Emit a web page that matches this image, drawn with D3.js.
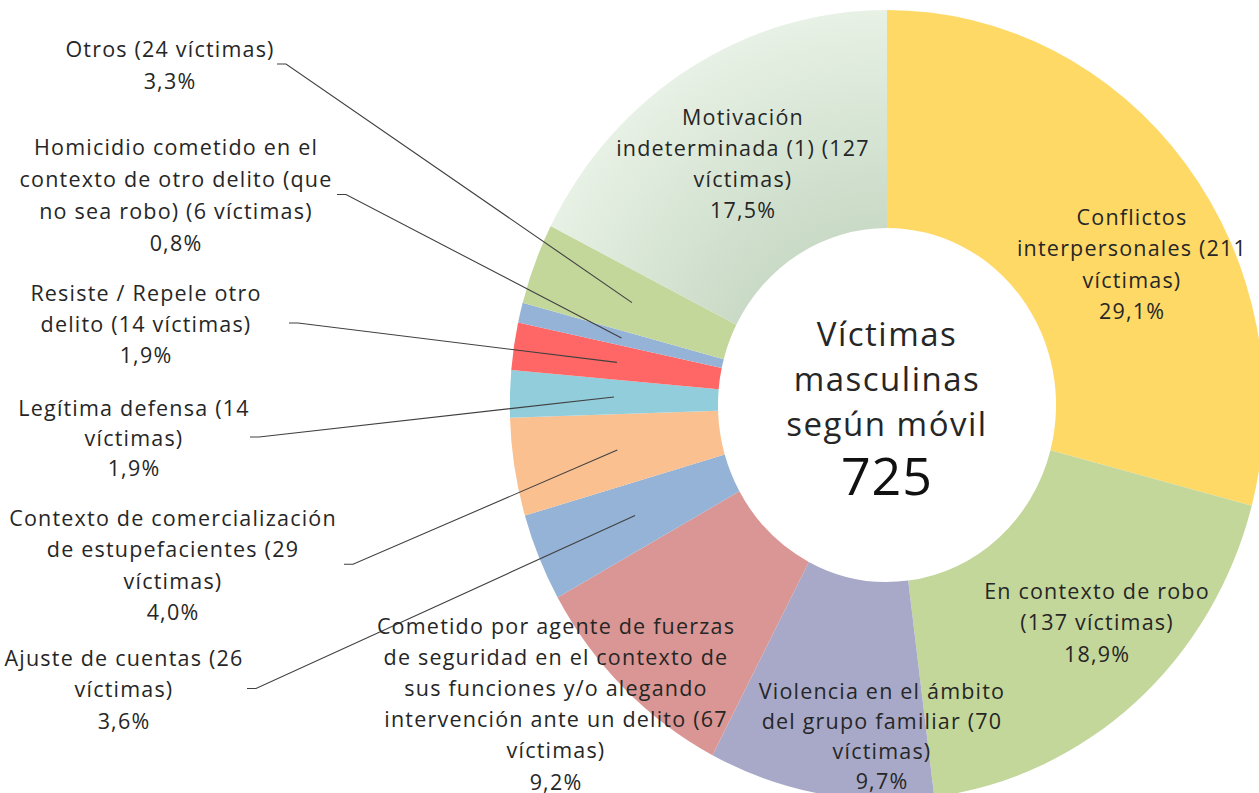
<!DOCTYPE html>
<html>
<head>
<meta charset="utf-8">
<script src="https://cdn.jsdelivr.net/npm/d3@7"></script>
<style>
  body { margin: 0; background: #fff; }
  text { font-family: "Open Sans", Lato, sans-serif; fill: #262626; }
</style>
</head>
<body>
<script>
const m = {
  width: 1259,
  height: 793
}

// data
const names = [
  "Conflictos interpersonales",
  "En contexto de robo",
  "Violencia en el ámbito del grupo familiar",
  "Cometido por agente de fuerzas de seguridad en el contexto de sus funciones y/o alegando intervención ante un delito",
  "Ajuste de cuentas",
  "Contexto de comercialización de estupefacientes",
  "Legítima defensa",
  "Resiste / Repele otro delito",
  "Homicidio cometido en el contexto de otro delito (que no sea robo)",
  "Otros",
  "Motivación indeterminada (1)"
];
const values = [211, 137, 70, 67, 26, 29, 14, 14, 6, 24, 127];
const colors = ["#FFD966", "#C4D79B", "#A8A9C8", "#D99694", "#95B3D7", "#FAC090",
                "#92CDDC", "#FF6666", "#95B3D7", "#C4D79B", "url(#motivGrad)"];
const centerLines = ["Víctimas", "masculinas", "según móvil"];

// words per line when wrapping each label
const wraps = [[1, 2, 1], [4, 2], [4, 4, 1], [5, 6, 4, 5, 1], [4, 1], [3, 3, 1],
               [3, 1], [4, 3], [4, 5, 5], [3], [1, 3, 1]];

// label layout: centre x, first line y, leader start x (null = inside label)
const labelPos = [
  [1132, 216, null], [1097, 590, null], [882, 690, null], [556, 625, null],
  [124, 657, 247], [173, 517, 344], [134, 407, 250], [146, 292, 289],
  [176, 146, 337], [170, 48, 277], [743, 116, null]
];
const lineH = [31.5, 31.5, 30.3, 31.2, 31.5, 31.5, 30, 31, 32.3, 32, 31.3];

const total = d3.sum(values);
const cx = 887, cy = 405, sx = 0.955;
const rOuter = 395, rInner = 177;

let svg = d3.select("body")
  .append("svg")
  .attr("width", m.width)
  .attr("height", m.height);

let defs = svg.append("defs");
let grad = defs.append("radialGradient")
  .attr("id", "motivGrad")
  .attr("gradientUnits", "userSpaceOnUse")
  .attr("cx", 0).attr("cy", 0).attr("r", rOuter);
grad.append("stop").attr("offset", rInner / rOuter).attr("stop-color", "#C9DAC6");
grad.append("stop").attr("offset", 1).attr("stop-color", "#E7F1E5");

let pie = d3.pie().sort(null).value(d => d)(values);
let arc = d3.arc().innerRadius(rInner).outerRadius(rOuter);

// donut, squeezed a little horizontally like the reference
let donut = svg.append("g")
  .attr("transform", `translate(${cx},${cy}) scale(${sx},1)`);

donut.selectAll("path")
  .data(pie)
  .enter()
  .append("path")
  .attr("d", arc)
  .attr("fill", (d, i) => colors[i]);

const fmt = v => (v / total * 100).toFixed(1).replace(".", ",") + "%";

function wrapLines(i) {
  let words = `${names[i]} (${values[i]} víctimas)`.split(" ");
  let lines = [], k = 0;
  wraps[i].forEach(n => {
    lines.push(words.slice(k, k + n).join(" "));
    k += n;
  });
  lines.push(fmt(values[i]));
  return lines;
}

// leader lines
let leaders = svg.append("g");
pie.forEach((d, i) => {
  let p = labelPos[i];
  if (p[2] === null) return;
  let lines = wrapLines(i);
  let y0 = p[1] + (lines.length - 1) * lineH[i] / 2;
  let c = arc.centroid(d);
  let ex = cx + c[0] * sx, ey = cy + c[1];
  leaders.append("polyline")
    .attr("points", `${p[2]},${y0} ${p[2] + 9},${y0} ${ex},${ey}`)
    .attr("fill", "none")
    .attr("stroke", "#404040")
    .attr("stroke-width", 1.1);
});

// labels
let labels = svg.append("g");
pie.forEach((d, i) => {
  let p = labelPos[i];
  let t = labels.append("text")
    .attr("text-anchor", "middle")
    .attr("font-size", 21.5)
    .attr("letter-spacing", 1.2);
  wrapLines(i).forEach((s, j) => {
    t.append("tspan")
      .attr("x", p[0])
      .attr("y", p[1] + j * lineH[i])
      .attr("dominant-baseline", "central")
      .text(s);
  });
});

// centre title
let centre = svg.append("g");
centerLines.forEach((s, j) => {
  centre.append("text")
    .attr("x", cx)
    .attr("y", 333 + j * 45)
    .attr("text-anchor", "middle")
    .attr("dominant-baseline", "central")
    .attr("font-size", 33)
    .attr("letter-spacing", 1.5)
    .text(s);
});
centre.append("text")
  .attr("x", cx)
  .attr("y", 474)
  .attr("text-anchor", "middle")
  .attr("dominant-baseline", "central")
  .attr("font-size", 52)
  .attr("letter-spacing", 1)
  .style("fill", "#111")
  .text(total);
</script>
</body>
</html>
